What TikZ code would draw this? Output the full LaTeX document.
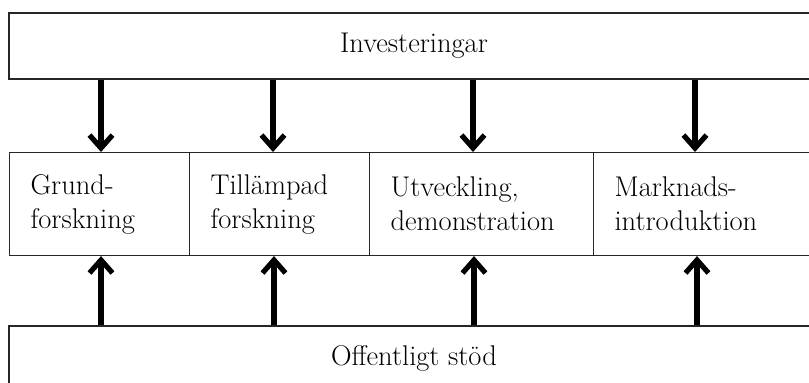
\documentclass[tikz,border=0pt]{standalone}
\usetikzlibrary{arrows.meta}
\begin{document}
\begin{tikzpicture}[x=1pt,y=-1pt,
  box/.style={draw=black!85,line width=1.1pt,rectangle,inner sep=0pt,
    font=\fontsize{28.5}{34}\selectfont},
  cell/.style={box,minimum height=103pt,align=left,anchor=north west,inner xsep=21pt,
    execute at begin node={\fontsize{28.5}{34}\selectfont\baselineskip=34pt\relax}},
  arr/.style={line width=5.2pt,black,-{Straight Barb[length=13pt,width=23pt]}}]
\useasboundingbox (0,0) rectangle (809,383);
\clip (0,0) rectangle (809,383);
\node[box,minimum width=810pt,minimum height=66pt] (inv) at (414,46) {Investeringar};
\node[box,minimum width=810pt,minimum height=64pt] (off) at (414,358) {Offentligt stöd};
\node[cell,text width=138pt] (g) at (9,152) {Grund-\\forskning};
\node[cell,text width=138pt] (t) at (189,152) {Tillämpad\\forskning};
\node[cell,text width=182pt] (u) at (369,152) {Utveckling,\\demonstration};
\node[cell,text width=184pt] (m) at (593,152) {Marknads-\\introduktion};
\coordinate (d1) at (101,0);
\coordinate (d2) at (273,0);
\coordinate (d3) at (473,0);
\coordinate (d4) at (695,0);
\coordinate (e1) at (101,0);
\coordinate (e2) at (274,0);
\coordinate (e3) at (474,0);
\coordinate (e4) at (697,0);
\draw[arr] (inv.south -| d1) -- (g.north -| d1);
\draw[arr] (inv.south -| d2) -- (t.north -| d2);
\draw[arr] (inv.south -| d3) -- (u.north -| d3);
\draw[arr] (inv.south -| d4) -- (m.north -| d4);
\draw[arr] (off.north -| e1) -- (g.south -| e1);
\draw[arr] (off.north -| e2) -- (t.south -| e2);
\draw[arr] (off.north -| e3) -- (u.south -| e3);
\draw[arr] (off.north -| e4) -- (m.south -| e4);
\end{tikzpicture}
\end{document}
